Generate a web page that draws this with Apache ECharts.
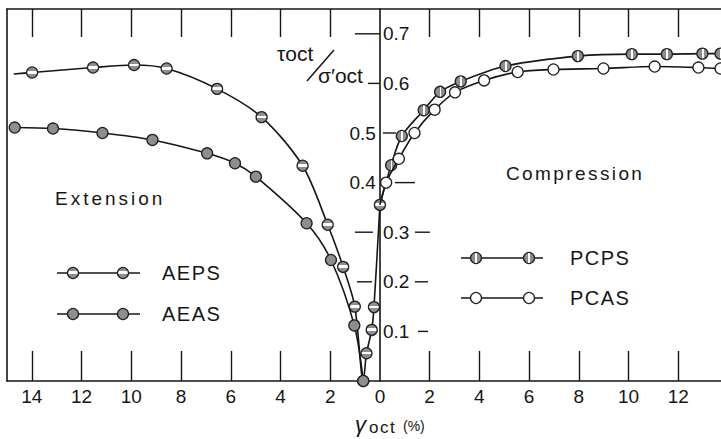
<!DOCTYPE html>
<html>
<head>
<meta charset="utf-8">
<script src="https://cdn.jsdelivr.net/npm/echarts@6/dist/echarts.min.js"></script>
<style>
  html, body { margin: 0; padding: 0; background: #fff; }
  #c { width: 721px; height: 439px; }
</style>
</head>
<body>
<div id="c"></div>
<script>
// Tick labels along the strain axis (extension plotted as negative strain)
const xTickValues = [-14, -12, -10, -8, -6, -4, -2, 0, 2, 4, 6, 8, 10, 12];
// Stress-ratio labels: right of the vertical axis / left of it
const yRightLabels = [0.1, 0.2, 0.3, 0.6, 0.7];
const yLeftLabels = [0.4, 0.5];

// Extension tests (strain in %, negative = extension side)
const aepsX = [0, -0.24, -0.33, -0.54, -0.67, -1.01, -1.48, -2.10, -3.11, -4.76, -6.55, -8.58, -9.89, -11.54, -13.99, -14.73];
const aepsY = [0.355, 0.149, 0.103, 0.056, 0.0, 0.150, 0.230, 0.315, 0.434, 0.532, 0.589, 0.630, 0.637, 0.632, 0.622, 0.619];
const aeasX = [-0.67, -1.03, -1.97, -2.95, -4.99, -5.83, -6.95, -9.15, -11.16, -13.15, -14.69];
const aeasY = [0.0, 0.112, 0.244, 0.318, 0.412, 0.439, 0.459, 0.486, 0.500, 0.509, 0.511];

// Compression tests
const pcpsX = [0, 0.45, 0.88, 1.76, 2.42, 3.25, 5.05, 7.96, 10.13, 11.54, 12.97, 13.70];
const pcpsY = [0.355, 0.435, 0.494, 0.546, 0.583, 0.604, 0.635, 0.655, 0.659, 0.659, 0.660, 0.660];
const pcasX = [0, 0.25, 0.76, 1.39, 2.20, 3.02, 4.19, 5.54, 6.98, 8.99, 11.05, 12.81, 13.70];
const pcasY = [0.355, 0.400, 0.448, 0.500, 0.547, 0.582, 0.606, 0.623, 0.628, 0.630, 0.634, 0.632, 0.630];

const FONT = '"Liberation Sans", Arial, sans-serif';
const INK = '#161616';
const GRAY = '#8e8e8e';
const GRID_LEFT = 7;

// symbol fills
const fillAEPS = { type: 'linear', x: 0, y: 0, x2: 0, y2: 1, colorStops: [
  { offset: 0, color: GRAY }, { offset: 0.36, color: GRAY }, { offset: 0.36, color: '#fff' },
  { offset: 0.6, color: '#fff' }, { offset: 0.6, color: GRAY }, { offset: 1, color: GRAY } ] };
const fillAEAS = GRAY;
const fillPCPS = { type: 'linear', x: 0, y: 0, x2: 1, y2: 0, colorStops: [
  { offset: 0, color: GRAY }, { offset: 0.45, color: GRAY }, { offset: 0.45, color: '#fff' },
  { offset: 0.62, color: '#fff' }, { offset: 0.62, color: GRAY }, { offset: 1, color: GRAY } ] };
const fillPCAS = '#fff';

function curve(name, xs, ys, fill, z, noMarkAt) {
  return {
    name, type: 'line', xAxisIndex: 0, yAxisIndex: 0, z,
    data: xs.map((x, i) => noMarkAt.includes(i) ? { value: [x, ys[i]], symbol: 'none' } : [x, ys[i]]),
    smooth: 0.3,
    symbol: 'circle', symbolSize: 11, showSymbol: true,
    lineStyle: { color: INK, width: 1.6 },
    itemStyle: { color: fill, borderColor: '#222', borderWidth: 1.3 },
    emphasis: { disabled: true },
    animation: false
  };
}

const tickXs = xTickValues.filter(v => v !== 0);
const axisLineStyle = { color: INK, width: 1.6 };
const tickStyle = { color: INK, width: 1.4 };
const labelStyle = { fontSize: 19, color: INK, fontFamily: FONT };

const option = {
  backgroundColor: '#fff',
  animation: false,
  grid: { left: GRID_LEFT, right: -7, top: 9, bottom: 58, containLabel: false, outerBoundsMode: 'none' },
  xAxis: [
    {
      type: 'value', position: 'bottom', min: -15, max: 14,
      axisLine: { onZero: false, lineStyle: axisLineStyle },
      axisTick: { inside: true, length: 30, customValues: tickXs, lineStyle: tickStyle },
      axisLabel: Object.assign({ customValues: xTickValues, margin: 6, formatter: v => String(Math.abs(v)) }, labelStyle),
      splitLine: { show: false }
    },
    {
      type: 'value', position: 'top', min: -15, max: 14,
      axisLine: { onZero: false, lineStyle: axisLineStyle },
      axisTick: { inside: true, length: 28, customValues: tickXs, lineStyle: tickStyle },
      axisLabel: { show: false },
      splitLine: { show: false }
    }
  ],
  yAxis: [
    {
      type: 'value', position: 'left', min: 0, max: 0.75,
      axisLine: { show: true, onZero: false, lineStyle: axisLineStyle },
      axisTick: { show: false },
      axisLabel: Object.assign({ inside: true, margin: 3, customValues: yRightLabels, formatter: v => v.toFixed(1) }, labelStyle),
      splitLine: { show: false }
    },
    {
      type: 'value', position: 'left', min: 0, max: 0.75,
      axisLine: { show: false, onZero: false },
      axisTick: { show: false },
      axisLabel: Object.assign({ inside: false, margin: 4, customValues: yLeftLabels, formatter: v => v.toFixed(1) }, labelStyle),
      splitLine: { show: false }
    },
    {
      type: 'value', position: 'left', min: 0, max: 0.75,
      axisLine: { show: true, onZero: false, lineStyle: axisLineStyle },
      axisTick: { show: false },
      axisLabel: { show: false },
      splitLine: { show: false }
    }
  ],
  series: [
    curve('AEPS', aepsX, aepsY, fillAEPS, 3, [aepsX.length - 1]),
    curve('AEAS', aeasX, aeasY, fillAEAS, 4, []),
    curve('PCPS', pcpsX, pcpsY, fillPCPS, 3, [0]),
    curve('PCAS', pcasX, pcasY, fillPCAS, 4, [0])
  ]
};

const chart = echarts.init(document.getElementById('c'), null, { renderer: 'svg' });
chart.setOption(option);

// move the stress-ratio axis onto zero strain
const axisX = chart.convertToPixel({ xAxisIndex: 0 }, 0);
const shift = -(axisX - GRID_LEFT);
chart.setOption({ yAxis: [{ offset: shift }, { offset: shift }, {}] });

// short stubs beside the vertical axis: [value, from, to] in px from the axis line
const yStubs = [[0.7, -25, 0], [0.6, -12, 0], [0.5, 3, 16], [0.4, 15, 35],
  [0.3, -25, -7], [0.3, 35, 50], [0.2, -23, -8], [0.2, 35, 48], [0.1, 38, 48]];
const elements = [];
yStubs.forEach(([v, a, b]) => {
  const y = chart.convertToPixel({ yAxisIndex: 0 }, v);
  elements.push({ type: 'line', silent: true,
    shape: { x1: axisX + a, y1: y, x2: axisX + b, y2: y },
    style: { stroke: INK, lineWidth: 1.4 } });
});

function text(str, x, y, size, extra) {
  return Object.assign({ type: 'text', x, y, silent: true,
    style: { text: str, font: size + 'px ' + FONT, fill: INK, align: 'left', verticalAlign: 'middle' } }, extra || {});
}

// region captions
elements.push(text('Extension', 55, 198, 19));
elements.push(text('Compression', 506, 173, 19));

// legend keys: a line through two markers, then the name
function key(name, x1, x2, m1, m2, y, fill, tx) {
  elements.push({ type: 'line', silent: true, shape: { x1, y1: y, x2, y2: y }, style: { stroke: INK, lineWidth: 1.6 } });
  [m1, m2].forEach(cx => elements.push({ type: 'circle', silent: true, z: 10,
    shape: { cx, cy: y, r: 5.5 }, style: { fill, stroke: '#222', lineWidth: 1.3 } }));
  elements.push(text(name, tx, y, 20));
}
key('AEPS', 57, 140, 73, 123, 273, fillAEPS, 162);
key('AEAS', 57, 140, 73, 123, 314, fillAEAS, 162);
key('PCPS', 461, 543, 476, 529, 258, fillPCPS, 570);
key('PCAS', 461, 543, 476, 529, 298, fillPCAS, 570);

// axis titles
elements.push(text('τoct', 277, 53, 21));
elements.push(text('σ′oct', 318, 75, 21));
elements.push({ type: 'line', silent: true, shape: { x1: 307, y1: 81, x2: 334, y2: 50 }, style: { stroke: INK, lineWidth: 1.5 } });
elements.push(text('γ', 355, 424, 22, { style: { text: 'γ', font: 'italic 22px ' + FONT, fill: INK, align: 'left', verticalAlign: 'middle' } }));
elements.push(text('oct', 369, 427, 17));
elements.push(text('(%)', 403, 426, 14));

chart.setOption({ graphic: { elements } });

// widen the lettering of the captions a little
const spacing = { 'Extension': 3, 'Compression': 2.4, 'AEPS': 1.5, 'AEAS': 1.5, 'PCPS': 1.5, 'PCAS': 1.5, 'oct': 1.5 };
document.querySelectorAll('#c svg text').forEach(t => {
  const s = spacing[t.textContent];
  if (s) t.style.letterSpacing = s + 'px';
});
</script>
</body>
</html>
